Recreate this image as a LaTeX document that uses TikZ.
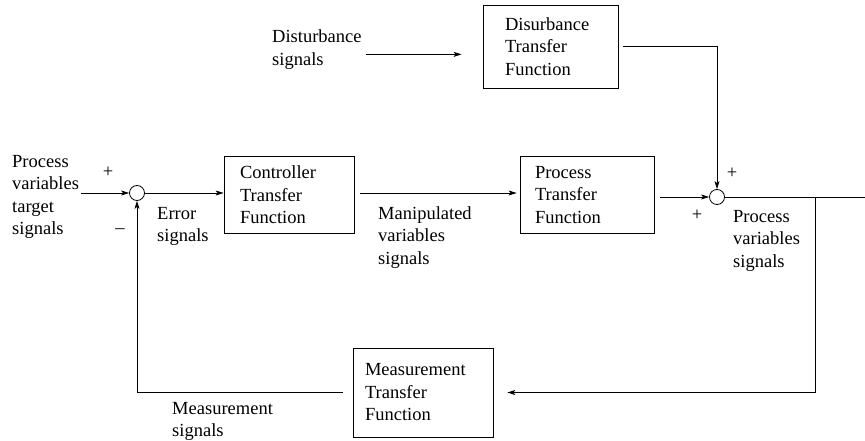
\documentclass[tikz,border=0pt]{standalone}
\usepackage{fontspec}
\setmainfont{Liberation Serif}
\newfontfamily\diagfont{Liberation Serif}
\usetikzlibrary{arrows.meta,calc}
\begin{document}
\begin{tikzpicture}[x=1pt,y=-1pt,
  every node/.style={font=\diagfont\fontsize{18.5}{22.5}\selectfont},
  blockbox/.style={draw, line width=0.8pt, align=left, inner ysep=0pt},
  lbl/.style={align=left, inner sep=0pt, anchor=north west},
  sumj/.style={draw, circle, minimum size=15pt, inner sep=0pt, line width=0.8pt},
  sgn/.style={inner sep=0pt},
  conn/.style={line width=0.8pt},
  arr/.style={conn, -{Stealth[length=8pt,width=5pt,inset=2pt]}}]
\useasboundingbox (0,0) rectangle (865,441);

% blocks
\node[blockbox, text width=98pt, inner xsep=16pt, minimum height=77pt] (ctrl) at (289,195) {Controller\\Transfer\\Function};
\node[blockbox, text width=104pt, inner xsep=15pt, minimum height=77pt] (proc) at (587,195) {Process\\Transfer\\Function};
\node[blockbox, text width=116pt, inner xsep=12pt, minimum height=89pt] (mbox) at (423,392.5) {Measurement\\Transfer\\Function};
\node[blockbox, text width=91pt, inner xsep=22pt, minimum height=83pt] (dbox) at (550.5,46.5) {Disurbance\\Transfer\\Function};

% summing junctions
\node[sumj] (c1) at (137,193) {};
\node[sumj] (c2) at (717,197) {};

% signs
\node[sgn] (p1) at (108,172) {+};
\node[sgn] (m1) at (120,231) {–};
\node[sgn] (p2) at (732,173) {+};
\node[sgn] (p3) at (697,215) {+};

% labels
\node[lbl] (tgt) at (12,155) {Process\\variables\\target\\signals};
\node[lbl] (err) at (157,207) {Error\\signals};
\node[lbl] (manip) at (378,206) {Manipulated\\variables\\signals};
\node[lbl] (pvs) at (733,210) {Process\\variables\\signals};
\node[lbl] (dsig) at (272,29.5) {Disturbance\\signals};
\node[lbl] (msig) at (172,402) {Measurement\\signals};

% coordinates
\coordinate (out) at (865,197);
\coordinate (br) at (815,197);
\coordinate (dsA) at ([xshift=4pt,yshift=-5pt]dsig.east);

% connectors
\draw[arr] ([xshift=2pt]tgt.east |- c1) -- (c1);
\draw[arr] (c1) -- (c1 -| ctrl.west);
\draw[arr, shorten <=6pt, shorten >=3pt] (ctrl.east |- c1) -- (proc.west |- c1);
\draw[arr, shorten <=6pt] (proc.east |- c2) -- (c2);
\draw[arr, shorten >=21pt] (dsA) -- (dsA -| dbox.west);
\draw[arr, shorten <=5pt] (dbox.east) -| (c2);
\draw[conn] (c2) -- (out);
\draw[arr, shorten >=14pt] (br) |- (mbox.east);
\draw[arr, shorten <=10pt] (mbox.west) -| (c1);
\end{tikzpicture}
\end{document}
